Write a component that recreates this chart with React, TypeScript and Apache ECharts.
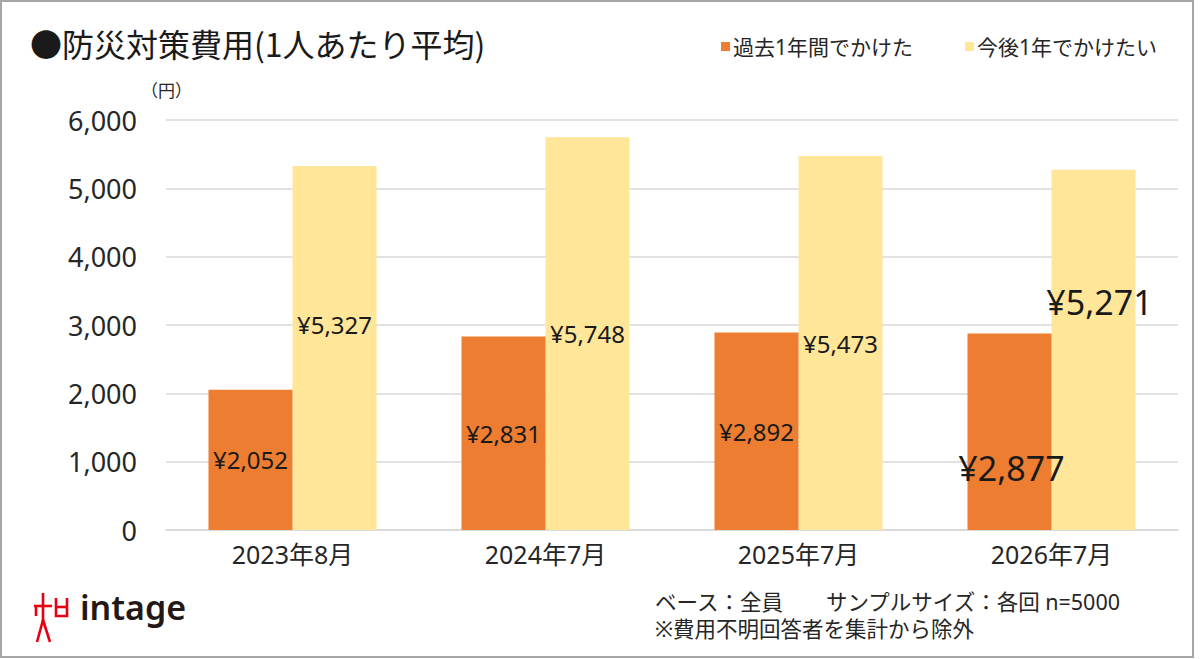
import React, { useEffect, useRef } from "react";
import * as echarts from "echarts";

const categories = ["2023年8月", "2024年7月", "2025年7月", "2026年7月"];
const pastYear = [2052, 2831, 2892, 2877];
const nextYear = [5327, 5748, 5473, 5271];
const seriesNames = ["過去1年間でかけた", "今後1年でかけたい"];
const yMin = 0;
const yMax = 6000;
const yInterval = 1000;

const titleText = "●防災対策費用(1人あたり平均)";
const unitText = "（円）";
const noteLine1 = "ベース：全員　　サンプルサイズ：各回 n=5000";
const noteLine2 = "※費用不明回答者を集計から除外";

const FONT = "'Noto Sans', 'Noto Sans CJK JP', sans-serif";
const CJK = "'Noto Sans CJK JP', sans-serif";
const ORANGE = "#ED7D31";
const YELLOW = "#FFE699";

const fmt = (v: number) => "¥" + v.toLocaleString("en-US");

export default function App() {
  const ref = useRef<HTMLDivElement>(null);
  useEffect(() => {
    document.body.style.margin = "0";
    if (!ref.current) return;
    const chart = echarts.init(ref.current, null, { renderer: "svg" });
    const red = "#E60012";
    const logoStroke = { stroke: red, lineWidth: 2.6, fill: "none" };
    chart.setOption({
      animation: false,
      backgroundColor: "#ffffff",
      textStyle: { fontFamily: FONT },
      grid: { left: 166, right: 22, top: 120, bottom: 129 },
      legend: {
        left: 716,
        top: 31,
        itemWidth: 9,
        itemHeight: 9,
        itemGap: 52,
        icon: "rect",
        textStyle: { fontSize: 21, color: "#262626", fontFamily: FONT, padding: [0, 0, 0, -2] },
        data: seriesNames,
      },
      xAxis: {
        type: "category",
        data: categories,
        axisTick: { show: false },
        axisLine: { lineStyle: { color: "#d9d9d9", width: 1.5 } },
        axisLabel: { fontSize: 25, color: "#262626", margin: 11, fontFamily: FONT },
      },
      yAxis: {
        type: "value",
        min: yMin,
        max: yMax,
        interval: yInterval,
        axisLine: { show: false },
        axisTick: { show: false },
        splitLine: { lineStyle: { color: "#d9d9d9", width: 1.5 } },
        axisLabel: {
          fontSize: 27,
          color: "#262626",
          margin: 29,
          fontFamily: FONT,
          formatter: (v: number) => v.toLocaleString("en-US"),
        },
      },
      series: [
        {
          name: seriesNames[0],
          type: "bar",
          barWidth: 84,
          barGap: "0%",
          itemStyle: { color: ORANGE },
          label: {
            show: true,
            position: "inside",
            fontSize: 24,
            color: "#1a1a1a",
            fontFamily: FONT,
            formatter: (p: any) => fmt(p.value),
          },
          data: pastYear.map((v, i) =>
            i === 3 ? { value: v, label: { fontSize: 34, offset: [2, 36] } } : v
          ),
          z: 2,
        },
        {
          name: seriesNames[1],
          type: "bar",
          barWidth: 84,
          barGap: "0%",
          itemStyle: { color: YELLOW },
          label: {
            show: true,
            position: "inside",
            fontSize: 24,
            color: "#1a1a1a",
            fontFamily: FONT,
            formatter: (p: any) => fmt(p.value),
          },
          data: nextYear.map((v, i) =>
            i === 3
              ? { value: v, label: { fontSize: 34, offset: [6, -48] } }
              : i === 0
              ? { value: v, label: { offset: [0, -23] } }
              : v
          ),
          z: 1,
        },
      ],
      graphic: [
        {
          type: "rect",
          shape: { x: 1, y: 1, width: 1192, height: 656 },
          style: { fill: "none", stroke: "#a6a6a6", lineWidth: 2 },
          silent: true,
        },
        {
          type: "text",
          x: 30,
          y: 43,
          style: { text: titleText, font: `32px ${CJK}`, fill: "#1a1a1a", verticalAlign: "middle" },
        },
        {
          type: "text",
          x: 141,
          y: 90,
          style: { text: unitText, font: `17px ${FONT}`, fill: "#262626", verticalAlign: "middle" },
        },
        {
          type: "text",
          x: 655,
          y: 601,
          style: { text: noteLine1, font: `21.5px ${FONT}`, fill: "#262626", verticalAlign: "middle" },
        },
        {
          type: "text",
          x: 655,
          y: 628,
          style: { text: noteLine2, font: `21.5px ${FONT}`, fill: "#262626", verticalAlign: "middle" },
        },
        {
          type: "text",
          x: 80,
          y: 607,
          style: { text: "intage", font: `600 34px ${FONT}`, fill: "#231815", verticalAlign: "middle" },
        },
        {
          type: "group",
          silent: true,
          children: [
            { type: "polyline", shape: { points: [[43, 593], [43, 624]] }, style: logoStroke },
            { type: "polyline", shape: { points: [[34, 606], [52, 606]] }, style: logoStroke },
            { type: "polyline", shape: { points: [[36, 606], [36, 616]] }, style: logoStroke },
            { type: "polyline", shape: { points: [[43, 620], [37, 642]] }, style: logoStroke },
            { type: "polyline", shape: { points: [[43, 620], [50, 642]] }, style: logoStroke },
            { type: "polyline", shape: { points: [[56, 598], [56, 616], [67, 616], [67, 598]] }, style: logoStroke },
            { type: "polyline", shape: { points: [[56, 607], [67, 607]] }, style: logoStroke },
          ],
        },
      ],
    });
    return () => chart.dispose();
  }, []);
  return <div ref={ref} style={{ width: 1200, height: 659 }} />;
}
